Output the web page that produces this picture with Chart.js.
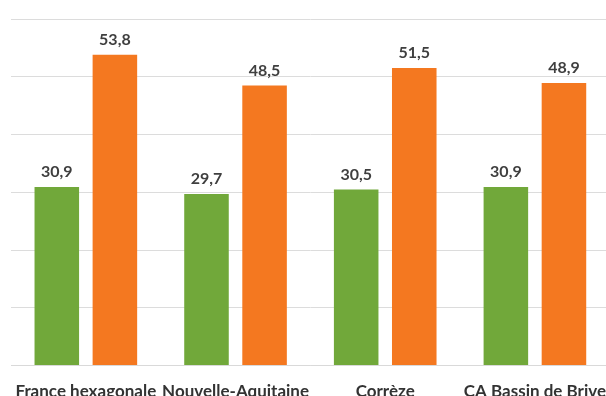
<!DOCTYPE html>
<html>
<head>
<meta charset="utf-8">
<script src="https://cdn.jsdelivr.net/npm/chart.js@4/dist/chart.umd.min.js"></script>
<style>
    html, body { margin: 0; padding: 0; background: #fff; overflow: hidden; }
    #wrap { width: 614px; height: 410px; }
</style>
</head>
<body>
<div id="wrap"><canvas id="grafico01"></canvas></div>
<script>
var territoires = ['France hexagonale', 'Nouvelle-Aquitaine', 'Corrèze', 'CA Bassin de Brive'];
var serieVert = [30.9, 29.7, 30.5, 30.9];
var serieOrange = [53.8, 48.5, 51.5, 48.9];
var yTicks = [0, 10, 20, 30, 40, 50, 60];

// etiquettes de valeur au-dessus des barres (virgule decimale)
var etiquettes = {
    id: 'etiquettes',
    afterDatasetsDraw: function (chart) {
        var ctx = chart.ctx;
        ctx.save();
        ctx.font = 'bold 16px Lato';
        ctx.fillStyle = '#3f3f3f';
        ctx.textAlign = 'center';
        ctx.textBaseline = 'middle';
        chart.data.datasets.forEach(function (ds, i) {
            chart.getDatasetMeta(i).data.forEach(function (bar, j) {
                var txt = ds.data[j].toFixed(1).replace('.', ',');
                ctx.fillText(txt, bar.x, bar.y - 15);
            });
        });
        ctx.restore();
    }
};

var ctx = document.getElementById('grafico01');
var myChart = new Chart(ctx, {
    type: 'bar',
    data: {
        labels: territoires,
        datasets: [
            {
                label: 'vert',
                data: serieVert,
                backgroundColor: '#71a83a',
                borderWidth: 0
            },
            {
                label: 'orange',
                data: serieOrange,
                backgroundColor: '#f47820',
                borderWidth: 0
            }
        ]
    },
    options: {
        responsive: true,
        maintainAspectRatio: false,
        animation: false,
        categoryPercentage: 0.776,
        barPercentage: 0.767,
        layout: {
            padding: { left: 11, right: 0, top: 19, bottom: 0 }
        },
        plugins: {
            legend: { display: false },
            tooltip: { enabled: false }
        },
        scales: {
            x: {
                grid: { display: false },
                border: { display: true, color: '#d9d9d9' },
                ticks: {
                    color: '#333333',
                    padding: 8,
                    maxRotation: 0,
                    autoSkip: false,
                    font: { family: 'Lato', size: 17, weight: 'bold' }
                }
            },
            y: {
                min: 0,
                max: 60,
                afterBuildTicks: function (axis) {
                    axis.ticks = yTicks.map(function (v) { return { value: v }; });
                },
                grid: { color: '#dcdcdc', drawTicks: false },
                border: { display: false },
                ticks: { display: false }
            }
        }
    },
    plugins: [etiquettes]
});
</script>
</body>
</html>
